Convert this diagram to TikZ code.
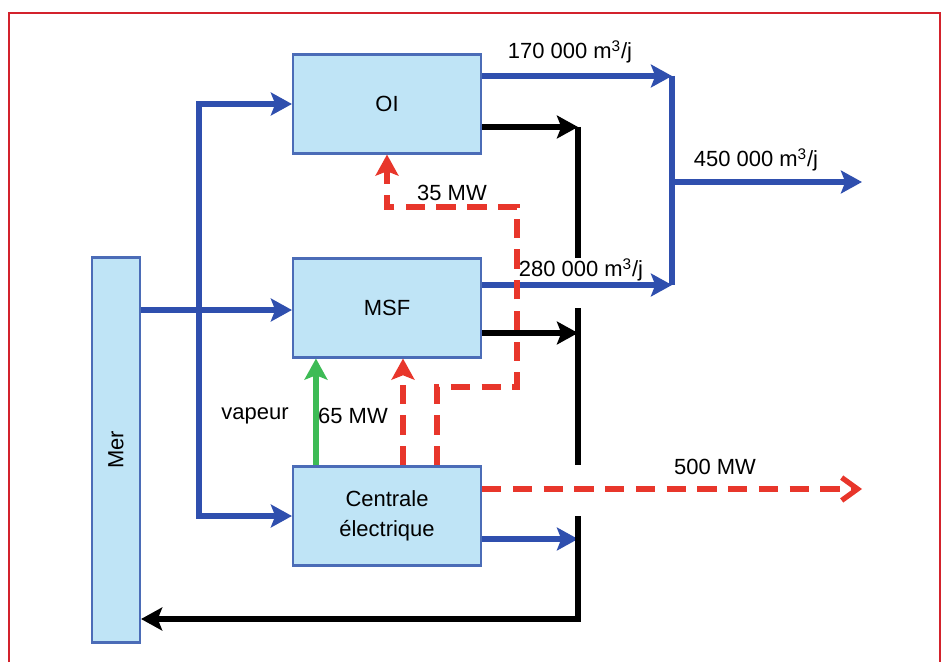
\documentclass[tikz,border=0pt]{standalone}
\usepackage{graphicx}
\usepackage{fontspec}
\setmainfont{Liberation Sans}
\usetikzlibrary{arrows.meta,positioning}
\definecolor{water}{HTML}{BFE4F6}
\definecolor{edge}{HTML}{4B6CB7}
\definecolor{flow}{HTML}{2F4FAE}
\definecolor{steam}{HTML}{3DBB55}
\definecolor{power}{HTML}{E8362B}
\definecolor{frame}{HTML}{D3222C}

\begin{document}
\begin{tikzpicture}[x=0.02cm,y=-0.02cm,>={Stealth[length=12pt,width=13pt,inset=2.5pt]},font=\fontsize{12.5}{17}\selectfont]
  \tikzstyle{unit}=[draw=edge,line width=1.2pt,fill=water,minimum width=3.76cm,minimum height=1.98cm,align=center,inner sep=0pt]
  \tikzstyle{bleu}=[draw=flow,line width=3.3pt]
  \tikzstyle{noir}=[draw=black,line width=3.6pt]
  \tikzstyle{rouge}=[draw=power,line width=3.6pt,dash pattern=on 11pt off 6.5pt]
  \tikzstyle{vert}=[draw=steam,line width=3.3pt]
  \useasboundingbox (0,0) rectangle (942,662);
  \draw[frame,line width=1.5pt] (9,662) -- (9,13) -- (940,13) -- (940,662);

  \node[unit,minimum width=0.96cm,minimum height=7.7cm] (mer) at (116,450) {\rotatebox{90}{Mer}};
  \node[unit] (oi) at (387,104) {OI};
  \node[unit] (msf) at (387,308) {MSF};
  \node[unit] (cent) at (387,516) {Centrale\\électrique};

  \coordinate (split) at (199,310);
  \coordinate (prodtop) at (672,76);
  \coordinate (prodmid) at (672,182);
  \coordinate (prodbot) at (672,285);
  \coordinate (prodend) at (862,182);
  \coordinate (rejA) at (578,127);
  \coordinate (gapA) at (578,258);
  \coordinate (gapB) at (578,308);
  \coordinate (rejB) at (578,333);
  \coordinate (gapC) at (578,465);
  \coordinate (gapD) at (578,516);
  \coordinate (rejC) at (578,539);
  \coordinate (rejend) at (578,619);
  \coordinate (elbA) at (517,387);
  \coordinate (elbB) at (517,207);
  \coordinate (grid) at (862,489);

  \draw[bleu,->] (mer.east |- split) -- (msf.west |- split);
  \draw[bleu,->] (split) |- (oi.west);
  \draw[bleu,->] (split) |- (cent.west);
  \draw[bleu,->] (oi.east |- prodtop) -- (prodtop);
  \draw[bleu,->] (msf.east |- prodbot) -- (prodbot);
  \draw[bleu] (prodtop) -- (prodbot);
  \draw[bleu,->] (prodmid) -- (prodend);
  \draw[bleu,->] (cent.east |- rejC) -- (rejC);

  \draw[noir,->] (oi.east |- rejA) -- (rejA);
  \draw[noir,->] (msf.east |- rejB) -- (rejB);
  \draw[noir] (rejA) -- (gapA);
  \draw[noir] (gapB) -- (gapC);
  \draw[noir,->] (gapD) -- (rejend) -- (mer.east |- rejend);

  \draw[vert,->] ([xshift=0.48cm]cent.north west) -- ([xshift=0.48cm]msf.south west);
  \draw[rouge,->] ([xshift=0.32cm]cent.north) -- ([xshift=0.32cm]msf.south);
  \draw[rouge,->] ([xshift=1cm]cent.north) |- (elbA) -- (elbB) -| (oi.south);
  \draw[rouge,-{Straight Barb[length=9pt,width=13pt,line width=3pt]}] (cent.east |- grid) -- (grid);

  \node (lab170) at (570,52) {170~000 m\textsuperscript{3}/j};
  \node (lab280) at (581,270) {280~000 m\textsuperscript{3}/j};
  \node (lab450) at (756,160) {450~000 m\textsuperscript{3}/j};
  \node (lab500) at (715,467) {500 MW};
  \node (lab35) at (452,193) {35 MW};
  \node (labvap) at (255,416) {vapeur};
  \node (lab65) at (353,416) {65 MW};
\end{tikzpicture}
\end{document}
